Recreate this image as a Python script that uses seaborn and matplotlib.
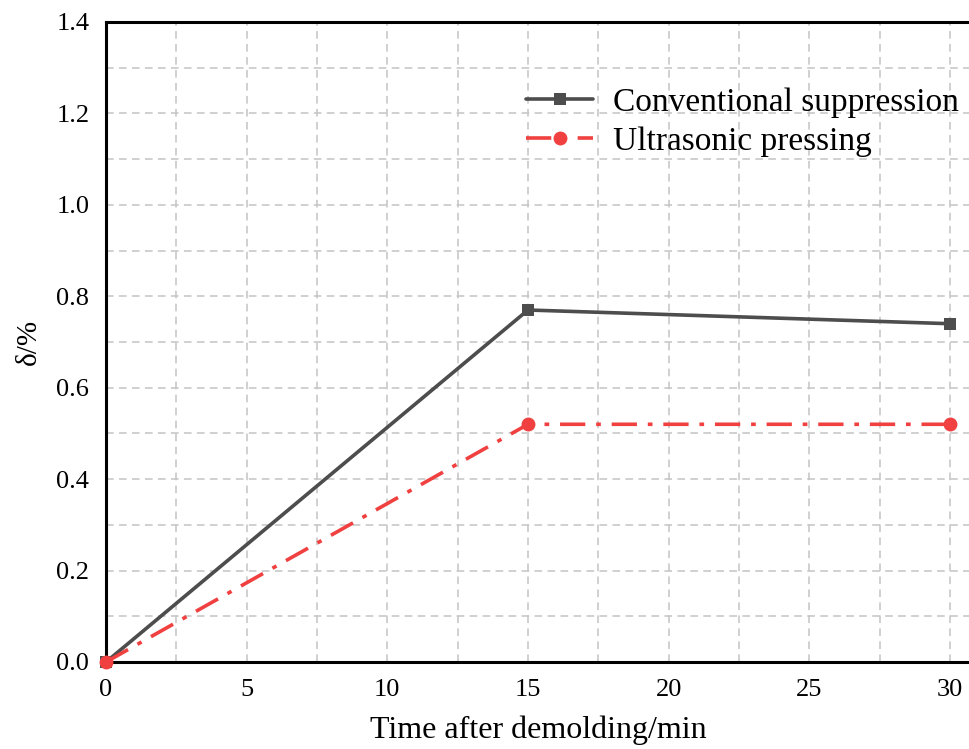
import matplotlib
matplotlib.use("Agg")
import matplotlib.pyplot as plt
import seaborn as sns
import pandas as pd
from matplotlib.ticker import MultipleLocator

time_min = [0, 15, 30]
conventional = [0.0, 0.77, 0.74]
ultrasonic = [0.0, 0.52, 0.52]
series_names = ["Conventional suppression", "Ultrasonic pressing"]
x_ticks = [0, 5, 10, 15, 20, 25, 30]
y_ticks = [0.0, 0.2, 0.4, 0.6, 0.8, 1.0, 1.2, 1.4]

sns.set_style("white")
plt.rcParams["font.family"] = ["Liberation Serif", "DejaVu Serif"]
plt.rcParams["text.color"] = "black"
plt.rcParams["axes.labelcolor"] = "black"
plt.rcParams["xtick.color"] = "black"
plt.rcParams["ytick.color"] = "black"

fig = plt.figure(figsize=(9.70, 7.49), dpi=100)
ax = fig.add_axes([106/970, 87/749, 864/970, 640/749])

df_c = pd.DataFrame({"t": time_min, "v": conventional})
df_u = pd.DataFrame({"t": time_min, "v": ultrasonic})

sns.lineplot(data=df_c, x="t", y="v", ax=ax, color="#4d4d4d", linewidth=2.6,
             marker="s", markersize=9, markeredgewidth=0, label=series_names[0],
             zorder=5, clip_on=False)
sns.lineplot(data=df_u, x="t", y="v", ax=ax, color="#f04040", linewidth=2.6,
             linestyle=(0, (7, 3, 1.3, 3)),
             marker="o", markersize=10, markeredgewidth=0, label=series_names[1],
             zorder=5, clip_on=False)

ax.set_xlim(0, 864 / (950 - 106) * 30)
ax.set_ylim(0, 1.4)
ax.set_xticks(x_ticks)
ax.set_yticks(y_ticks)
ax.set_yticklabels([f"{v:.1f}" for v in y_ticks])
ax.xaxis.set_minor_locator(MultipleLocator(2.5))
ax.yaxis.set_minor_locator(MultipleLocator(0.1))

ax.grid(True, which="both", color="#c4c4c4", linestyle=(0, (5, 3.5)), linewidth=1.1)
ax.set_axisbelow(True)

for s in ["left", "bottom", "top"]:
    ax.spines[s].set_color("black")
    ax.spines[s].set_linewidth(2.2)
ax.spines["right"].set_visible(False)

ax.tick_params(which="major", direction="in", length=9, width=2, labelsize=19,
               colors="black")
ax.tick_params(axis="x", which="major", pad=12)
ax.tick_params(axis="y", which="major", pad=12)
ax.tick_params(which="minor", direction="in", length=4, width=2, colors="black")
ax.tick_params(top=False, right=False, which="both")

ax.set_xlabel("Time after demolding/min", fontsize=23, labelpad=11)
ax.set_ylabel("δ/%", fontsize=21, labelpad=10)

leg = ax.legend(loc="upper right", bbox_to_anchor=(1.022, 0.945), frameon=False,
                fontsize=24, handlelength=2.0, handletextpad=0.6, labelspacing=0.25)

fig.savefig("out.png", dpi=100)
